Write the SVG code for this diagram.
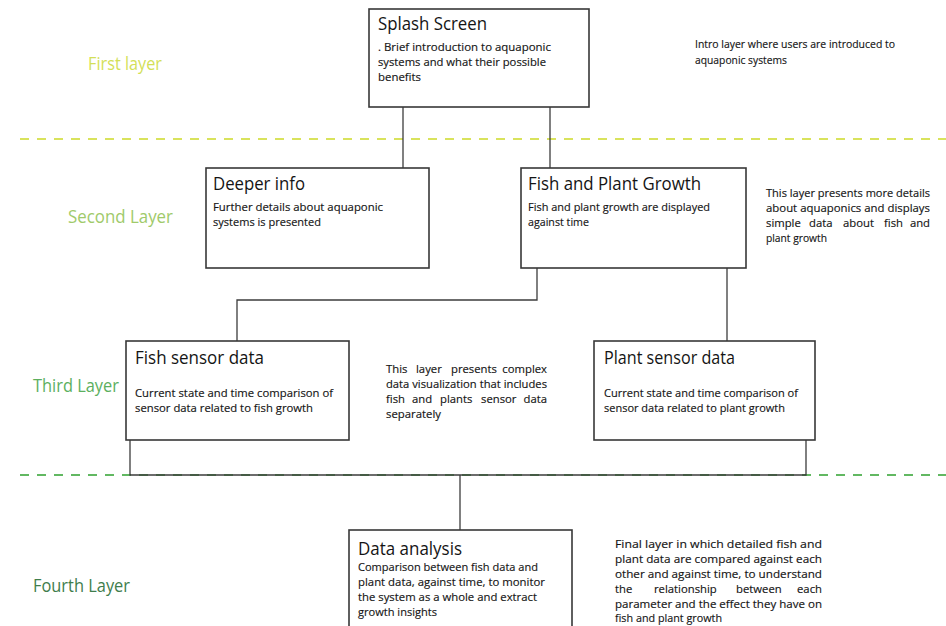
<svg xmlns="http://www.w3.org/2000/svg" width="946" height="626" viewBox="0 0 946 626">
  <style>
    .box { fill: #ffffff; stroke: #383838; stroke-width: 1.6; }
    .wire { fill: none; stroke: #3c3c3c; stroke-width: 1.3; }
    .title { font-family: "Open Sans", "Noto Sans", sans-serif; font-size: 18.5px; fill: #141414; }
    .body { font-family: "Open Sans", "Noto Sans", sans-serif; font-size: 11.3px; fill: #141414; stroke: #141414; stroke-width: 0.15; }
    .layer { font-family: "Open Sans", "Noto Sans", sans-serif; font-size: 17.5px; }
  </style>

  <rect width="946" height="626" fill="#ffffff"/>

  <!-- layer dividers -->
  <g id="dividers">
    <line x1="20" y1="139" x2="946" y2="139" stroke="#d9e35c" stroke-width="2" stroke-dasharray="9 8"/>
    <line x1="20" y1="475" x2="946" y2="475" stroke="#62b862" stroke-width="2" stroke-dasharray="9 8"/>
  </g>

  <!-- layer labels -->
  <g id="layer-labels">
    <text class="layer" x="88" y="70" fill="#d3df58" textLength="74" lengthAdjust="spacingAndGlyphs">First layer</text>
    <text class="layer" x="68" y="223" fill="#a0ca6a" textLength="105" lengthAdjust="spacingAndGlyphs">Second Layer</text>
    <text class="layer" x="33" y="392" fill="#5caf5e" textLength="86" lengthAdjust="spacingAndGlyphs">Third Layer</text>
    <text class="layer" x="33" y="592" fill="#3f7d4c" textLength="97" lengthAdjust="spacingAndGlyphs">Fourth Layer</text>
  </g>

  <!-- connectors -->
  <g id="connectors">
    <path class="wire" d="M403 107 V168"/>
    <path class="wire" d="M550 107 V168"/>
    <path class="wire" d="M537 268 V300 H237 V341"/>
    <path class="wire" d="M727 268 V341"/>
    <path class="wire" d="M130 440 V475 H806 V440"/>
    <path class="wire" d="M460 475 V530"/>
  </g>

  <g id="splash-screen">
    <rect class="box" x="369" y="9" width="220" height="98"/>
    <text class="title" x="378" y="30" textLength="109" lengthAdjust="spacingAndGlyphs">Splash Screen</text>
    <text class="body" x="378" y="51" textLength="173" lengthAdjust="spacingAndGlyphs">. Brief introduction to aquaponic</text>
    <text class="body" x="378" y="66" textLength="168" lengthAdjust="spacingAndGlyphs">systems and what their possible</text>
    <text class="body" x="378" y="81" textLength="43" lengthAdjust="spacingAndGlyphs">benefits</text>
  </g>

  <g id="note-first">
    <text class="body" x="695" y="48" textLength="200" lengthAdjust="spacingAndGlyphs">Intro layer where users are introduced to</text>
    <text class="body" x="695" y="64" textLength="92" lengthAdjust="spacingAndGlyphs">aquaponic systems</text>
  </g>

  <g id="deeper-info">
    <rect class="box" x="206" y="168" width="223" height="100"/>
    <text class="title" x="213" y="190" textLength="92" lengthAdjust="spacingAndGlyphs">Deeper info</text>
    <text class="body" x="213" y="211" textLength="170" lengthAdjust="spacingAndGlyphs">Further details about aquaponic</text>
    <text class="body" x="213" y="226" textLength="108" lengthAdjust="spacingAndGlyphs">systems is presented</text>
  </g>

  <g id="fish-plant-growth">
    <rect class="box" x="521" y="168" width="225" height="100"/>
    <text class="title" x="528" y="190" textLength="173" lengthAdjust="spacingAndGlyphs">Fish and Plant Growth</text>
    <text class="body" x="528" y="211" textLength="182" lengthAdjust="spacingAndGlyphs">Fish and plant growth are displayed</text>
    <text class="body" x="528" y="226" textLength="61" lengthAdjust="spacingAndGlyphs">against time</text>
  </g>

  <g id="note-second">
    <text class="body" x="766" y="197" textLength="164" lengthAdjust="spacingAndGlyphs">This layer presents more details</text>
    <text class="body" x="766" y="212" textLength="164" lengthAdjust="spacingAndGlyphs">about aquaponics and displays</text>
    <text class="body" y="227"><tspan x="766">simple</tspan><tspan x="809">data</tspan><tspan x="843">about</tspan><tspan x="884">fish</tspan><tspan x="930" text-anchor="end">and</tspan></text>
    <text class="body" x="766" y="242" textLength="61" lengthAdjust="spacingAndGlyphs">plant growth</text>
  </g>

  <g id="fish-sensor-data">
    <rect class="box" x="126" y="341" width="223" height="99"/>
    <text class="title" x="135" y="364" textLength="129" lengthAdjust="spacingAndGlyphs">Fish sensor data</text>
    <text class="body" x="135" y="397" textLength="198" lengthAdjust="spacingAndGlyphs">Current state and time comparison of</text>
    <text class="body" x="135" y="412" textLength="178" lengthAdjust="spacingAndGlyphs">sensor data related to fish growth</text>
  </g>

  <g id="note-third">
    <text class="body" y="373"><tspan x="386">This</tspan><tspan x="416">layer</tspan><tspan x="451">presents</tspan><tspan x="547" text-anchor="end">complex</tspan></text>
    <text class="body" x="386" y="388" textLength="161" lengthAdjust="spacingAndGlyphs">data visualization that includes</text>
    <text class="body" y="403"><tspan x="386">fish</tspan><tspan x="412">and</tspan><tspan x="440">plants</tspan><tspan x="481">sensor</tspan><tspan x="547" text-anchor="end">data</tspan></text>
    <text class="body" x="386" y="418" textLength="55" lengthAdjust="spacingAndGlyphs">separately</text>
  </g>

  <g id="plant-sensor-data">
    <rect class="box" x="594" y="341" width="221" height="99"/>
    <text class="title" x="604" y="364" textLength="131" lengthAdjust="spacingAndGlyphs">Plant sensor data</text>
    <text class="body" x="604" y="397" textLength="194" lengthAdjust="spacingAndGlyphs">Current state and time comparison of</text>
    <text class="body" x="604" y="412" textLength="181" lengthAdjust="spacingAndGlyphs">sensor data related to plant growth</text>
  </g>

  <g id="data-analysis">
    <rect class="box" x="349" y="530" width="223" height="110"/>
    <text class="title" x="358" y="555" textLength="104" lengthAdjust="spacingAndGlyphs">Data analysis</text>
    <text class="body" x="358" y="571" textLength="180" lengthAdjust="spacingAndGlyphs">Comparison between fish data and</text>
    <text class="body" x="358" y="586" textLength="187" lengthAdjust="spacingAndGlyphs">plant data, against time, to monitor</text>
    <text class="body" x="358" y="601" textLength="179" lengthAdjust="spacingAndGlyphs">the system as a whole and extract</text>
    <text class="body" x="358" y="616" textLength="79" lengthAdjust="spacingAndGlyphs">growth insights</text>
  </g>

  <g id="note-fourth">
    <text class="body" x="615" y="548" textLength="207" lengthAdjust="spacingAndGlyphs">Final layer in which detailed fish and</text>
    <text class="body" x="615" y="563" textLength="207" lengthAdjust="spacingAndGlyphs">plant data are compared against each</text>
    <text class="body" x="615" y="578" textLength="207" lengthAdjust="spacingAndGlyphs">other and against time, to understand</text>
    <text class="body" y="593"><tspan x="615">the</tspan><tspan x="654">relationship</tspan><tspan x="736">between</tspan><tspan x="822" text-anchor="end">each</tspan></text>
    <text class="body" x="615" y="608" textLength="207" lengthAdjust="spacingAndGlyphs">parameter and the effect they have on</text>
    <text class="body" x="615" y="622" textLength="107" lengthAdjust="spacingAndGlyphs">fish and plant growth</text>
  </g>
</svg>
